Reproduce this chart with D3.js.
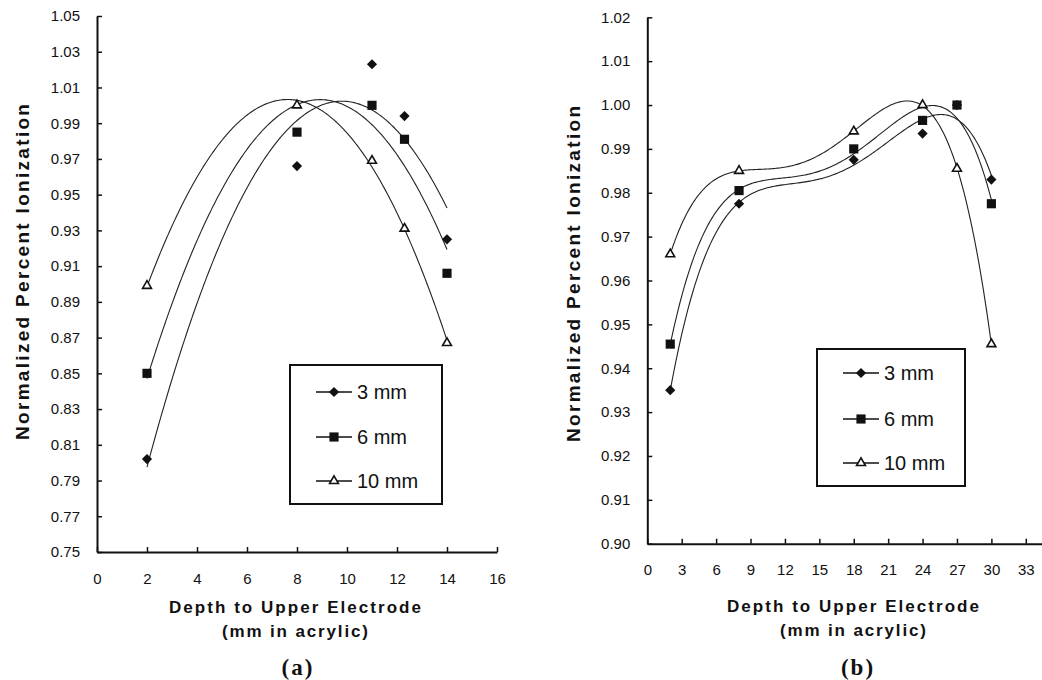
<!DOCTYPE html>
<html lang="en">
<head>
<meta charset="UTF-8">
<title>Normalized Percent Ionization</title>
<style>
  body { margin: 0; background: #fff; }
  svg { display: block; font-family: "Liberation Sans", Arial, sans-serif; }
</style>
</head>
<body>
<svg id="svg"></svg>
<script src="https://d3js.org/d3.v7.min.js"></script>
<script>
// series names and marker types
const seriesNames = ["3 mm", "6 mm", "10 mm"];

// panel (a)
const depthA = [2, 8, 11, 12.3, 14];
const a3mm  = [0.802, 0.966, 1.023, 0.994, 0.925];
const a6mm  = [0.850, 0.985, 1.000, 0.981, 0.906];
const a10mm = [0.899, 1.000, 0.969, 0.931, 0.867];
const ticksXA = [0, 2, 4, 6, 8, 10, 12, 14, 16];
const ticksYA = [0.75, 0.77, 0.79, 0.81, 0.83, 0.85, 0.87, 0.89, 0.91, 0.93, 0.95, 0.97, 0.99, 1.01, 1.03, 1.05];

// panel (b)
const depthB = [2, 8, 18, 24, 27, 30];
const b3mm  = [0.935, 0.9775, 0.9875, 0.9935, 1.000, 0.983];
const b6mm  = [0.9455, 0.9805, 0.990, 0.9965, 1.000, 0.9775];
const b10mm = [0.966, 0.985, 0.994, 1.000, 0.9855, 0.9455];
const ticksXB = [0, 3, 6, 9, 12, 15, 18, 21, 24, 27, 30, 33];
const ticksYB = [0.90, 0.91, 0.92, 0.93, 0.94, 0.95, 0.96, 0.97, 0.98, 0.99, 1.00, 1.01, 1.02];

const W = 1042, H = 680;
const svg = d3.select("#svg").attr("width", W).attr("height", H)
    .attr("viewBox", `0 0 ${W} ${H}`);
svg.append("rect").attr("width", W).attr("height", H).attr("fill", "#fff");

// least squares polynomial (like an Excel trendline)
function polyfit(xs, ys, deg) {
    const s = d3.max(xs);
    const n = deg + 1;
    const A = Array.from({length: n}, () => new Array(n + 1).fill(0));
    xs.forEach((x, k) => {
        const t = x / s;
        for (let i = 0; i < n; i++) {
            for (let j = 0; j < n; j++) A[i][j] += Math.pow(t, i + j);
            A[i][n] += ys[k] * Math.pow(t, i);
        }
    });
    for (let c = 0; c < n; c++) {
        let p = c;
        for (let r = c + 1; r < n; r++) if (Math.abs(A[r][c]) > Math.abs(A[p][c])) p = r;
        [A[c], A[p]] = [A[p], A[c]];
        for (let r = 0; r < n; r++) {
            if (r === c) continue;
            const f = A[r][c] / A[c][c];
            for (let j = c; j <= n; j++) A[r][j] -= f * A[c][j];
        }
    }
    const coef = A.map((row, i) => row[n] / row[i]);
    return x => coef.reduce((acc, c, i) => acc + c * Math.pow(x / s, i), 0);
}

const markerPath = {
    diamond: d3.symbol().type(d3.symbolSquare).size(52)(),
    square: d3.symbol().type(d3.symbolSquare).size(84)(),
    triangle: d3.symbol().type(d3.symbolTriangle).size(34)()
};
const markerKinds = ["diamond", "square", "triangle"];

function marker(g, kind, x, y) {
    const m = g.append("path")
        .attr("d", markerPath[kind])
        .attr("transform", kind === "diamond" ? `translate(${x},${y}) rotate(45)` : `translate(${x},${y})`);
    if (kind === "triangle") {
        m.attr("fill", "#fff").attr("stroke", "#111").attr("stroke-width", 1.6);
    } else {
        m.attr("fill", "#111");
    }
}

function drawPanel(p) {
    const g = svg.append("g");
    const x = d3.scaleLinear().domain(p.xDomain).range(p.xRange);
    const y = d3.scaleLinear().domain(p.yDomain).range(p.yRange);

    // trendlines
    const line = d3.line().x(d => x(d[0])).y(d => y(d[1]));
    p.series.forEach(vals => {
        const f = polyfit(p.depth, vals, p.deg);
        const x0 = d3.min(p.depth), x1 = d3.max(p.depth);
        const pts = d3.range(0, 201).map(i => {
            const xv = x0 + (x1 - x0) * i / 200;
            return [xv, f(xv)];
        });
        g.append("path").attr("d", line(pts))
            .attr("fill", "none").attr("stroke", "#222").attr("stroke-width", 1.1);
    });

    // points
    p.series.forEach((vals, si) => {
        vals.forEach((v, i) => marker(g, markerKinds[si], x(p.depth[i]), y(v)));
    });

    // axes
    const yAxis = d3.axisLeft(y).tickValues(p.yTicks).tickSize(-5).tickSizeOuter(0)
        .tickPadding(17).tickFormat(d3.format(".2f"));
    const xAxis = d3.axisBottom(x).tickValues(p.xTicks).tickSize(-5).tickSizeOuter(0)
        .tickPadding(21).tickFormat(d3.format("d"));
    const ya = g.append("g").attr("transform", `translate(${p.xRange[0]},0)`).call(yAxis);
    const xa = g.append("g").attr("transform", `translate(0,${p.yRange[0]})`).call(xAxis);
    [ya, xa].forEach(a => {
        a.select(".domain").attr("stroke", "#111").attr("stroke-width", 2);
        a.selectAll(".tick line").attr("stroke", "#111").attr("stroke-width", 1.5);
        a.selectAll(".tick text").attr("fill", "#111").attr("font-size", 15)
            .attr("font-family", "'Liberation Sans', Arial, sans-serif");
    });

    // axis titles
    g.append("text").attr("x", p.yTitle[0]).attr("y", p.yTitle[1])
        .attr("transform", `rotate(-90,${p.yTitle[0]},${p.yTitle[1]})`)
        .attr("text-anchor", "middle").attr("dominant-baseline", "central")
        .attr("font-size", 19).attr("font-weight", "bold").attr("fill", "#111")
        .attr("textLength", 336).attr("lengthAdjust", "spacing")
        .text("Normalized Percent Ionization");
    g.append("text").attr("x", p.xTitle[0]).attr("y", p.xTitle[1])
        .attr("text-anchor", "middle").attr("dominant-baseline", "central")
        .attr("font-size", 17).attr("font-weight", "bold").attr("fill", "#111")
        .attr("textLength", 252).attr("lengthAdjust", "spacing")
        .text("Depth to Upper Electrode");
    g.append("text").attr("x", p.xTitle[0]).attr("y", p.xTitle[1] + 24)
        .attr("text-anchor", "middle").attr("dominant-baseline", "central")
        .attr("font-size", 17).attr("font-weight", "bold").attr("fill", "#111")
        .attr("textLength", 146).attr("lengthAdjust", "spacing")
        .text("(mm in acrylic)");
    g.append("text").attr("x", p.label[0]).attr("y", p.label[1])
        .attr("text-anchor", "middle").attr("dominant-baseline", "central")
        .attr("font-family", "'Liberation Serif', 'Times New Roman', serif")
        .attr("font-size", 23).attr("font-weight", "bold").attr("fill", "#111")
        .attr("letter-spacing", 2)
        .text(p.labelText);

    // legend
    const lg = svg.append("g").attr("transform", `translate(${p.legend[0]},${p.legend[1]})`);
    lg.append("rect").attr("width", p.legend[2]).attr("height", p.legend[3])
        .attr("fill", "#fff").attr("stroke", "#111").attr("stroke-width", 2);
    seriesNames.forEach((name, i) => {
        const cy = p.legendRows[i];
        lg.append("line").attr("x1", 26).attr("x2", 62).attr("y1", cy).attr("y2", cy)
            .attr("stroke", "#111").attr("stroke-width", 1.5);
        marker(lg, markerKinds[i], 44, cy);
        lg.append("text").attr("x", 67).attr("y", cy).attr("dominant-baseline", "central")
            .attr("font-size", 20).attr("fill", "#111").text(name);
    });
}

drawPanel({
    depth: depthA, series: [a3mm, a6mm, a10mm], deg: 2,
    xDomain: [0, 16], xRange: [97, 497],
    yDomain: [0.75, 1.05], yRange: [552, 16],
    xTicks: ticksXA, yTicks: ticksYA,
    yTitle: [22, 272], xTitle: [295, 607],
    label: [298, 667], labelText: "(a)",
    legend: [290, 365, 152, 139], legendRows: [27, 72, 116]
});

drawPanel({
    depth: depthB, series: [b3mm, b6mm, b10mm], deg: 4,
    xDomain: [0, 36], xRange: [647.3, 1060.2],
    yDomain: [0.90, 1.02], yRange: [543.7, 17.3],
    xTicks: ticksXB, yTicks: ticksYB,
    yTitle: [573, 274], xTitle: [853, 606],
    label: [858, 667], labelText: "(b)",
    legend: [817, 349, 148, 137], legendRows: [24, 70, 114]
});
</script>
</body>
</html>
